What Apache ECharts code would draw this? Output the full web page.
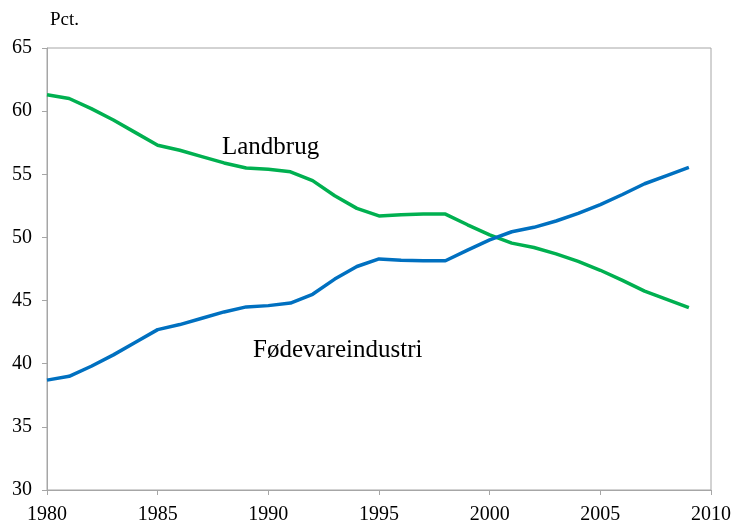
<!DOCTYPE html>
<html>
<head>
<meta charset="utf-8">
<script src="https://cdn.jsdelivr.net/npm/echarts@6/dist/echarts.min.js"></script>
<style>
  html, body { margin: 0; padding: 0; background: #fff; }
  #chart { width: 735px; height: 525px; }
</style>
</head>
<body>
<div id="chart"></div>
<script>
// years 1980-2009
var years = [1980,1981,1982,1983,1984,1985,1986,1987,1988,1989,
             1990,1991,1992,1993,1994,1995,1996,1997,1998,1999,
             2000,2001,2002,2003,2004,2005,2006,2007,2008,2009];
// Landbrug (pct.)
var landbrug = [61.3,61.0,60.2,59.3,58.3,57.3,56.9,56.4,55.9,55.5,
                55.4,55.2,54.5,53.3,52.3,51.7,51.8,51.85,51.85,51.0,
                50.2,49.55,49.2,48.7,48.1,47.4,46.6,45.75,45.1,44.45];
// Fødevareindustri (pct.)
var foedevare = [38.7,39.0,39.8,40.7,41.7,42.7,43.1,43.6,44.1,44.5,
                 44.6,44.8,45.5,46.7,47.7,48.3,48.2,48.15,48.15,49.0,
                 49.8,50.45,50.8,51.3,51.9,52.6,53.4,54.25,54.9,55.55];
var yTicks = [30,35,40,45,50,55,60,65];

var font = '"Liberation Serif", "Times New Roman", serif';
var axisGray = '#a6a6a6';

function pairs(vals) {
  return years.map(function (y, i) { return [y, vals[i]]; });
}

var chart = echarts.init(document.getElementById('chart'));
chart.setOption({
  animation: false,
  backgroundColor: '#fff',
  grid: {
    left: 47, right: 24, top: 48, bottom: 35,
    show: true, borderColor: axisGray, borderWidth: 1
  },
  xAxis: {
    type: 'value', min: 1980, max: 2010, interval: 5,
    axisLine: { show: true, lineStyle: { color: axisGray, width: 1 } },
    axisTick: { show: true, inside: false, length: 5, lineStyle: { color: axisGray } },
    splitLine: { show: false },
    axisLabel: { color: '#000', fontFamily: font, fontSize: 20, margin: 15,
                 formatter: function (v) { return String(v); } }
  },
  yAxis: {
    type: 'value', min: yTicks[0], max: yTicks[yTicks.length - 1], interval: 5,
    axisLine: { show: true, lineStyle: { color: axisGray, width: 1 } },
    axisTick: { show: true, inside: false, length: 5, lineStyle: { color: axisGray } },
    splitLine: { show: false },
    axisLabel: { color: '#000', fontFamily: font, fontSize: 20, margin: 15 }
  },
  series: [
    {
      name: 'Landbrug', type: 'line', data: pairs(landbrug),
      showSymbol: false, lineStyle: { color: '#00b050', width: 3.5 }
    },
    {
      name: 'Fødevareindustri', type: 'line', data: pairs(foedevare),
      showSymbol: false, lineStyle: { color: '#0070c0', width: 3.5 }
    }
  ],
  graphic: [
    { type: 'text', left: 50, top: 11,
      style: { text: 'Pct.', fill: '#000', font: '19px ' + font } },
    { type: 'text', left: 222, top: 135,
      style: { text: 'Landbrug', fill: '#000', font: '25px ' + font } },
    { type: 'text', left: 253, top: 338,
      style: { text: 'Fødevareindustri', fill: '#000', font: '25px ' + font } }
  ]
});
</script>
</body>
</html>
